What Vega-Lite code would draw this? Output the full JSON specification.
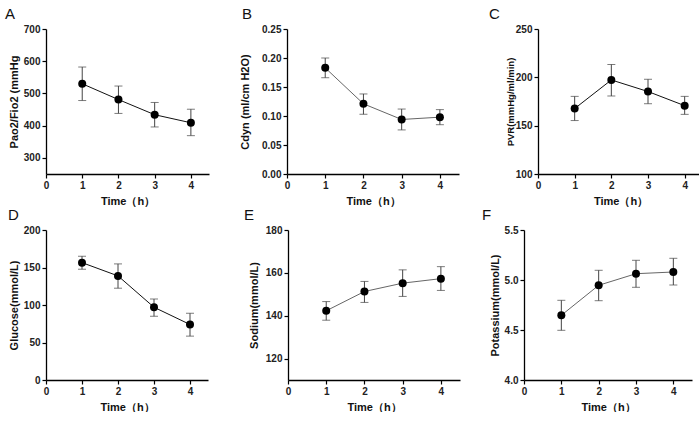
{
  "$schema": "https://vega.github.io/schema/vega-lite/v6.json",
  "background": "white",
  "padding": {"left": 5, "top": 7, "right": 0, "bottom": 0},
  "datasets": {
    "stats": [
      {"panel": "A", "time": 1, "mean": 530, "lo": 478, "hi": 582},
      {"panel": "A", "time": 2, "mean": 481, "lo": 438, "hi": 523},
      {"panel": "A", "time": 3, "mean": 434, "lo": 396, "hi": 472},
      {"panel": "A", "time": 4, "mean": 409, "lo": 369, "hi": 451},
      {"panel": "B", "time": 1, "mean": 0.183, "lo": 0.166, "hi": 0.2},
      {"panel": "B", "time": 2, "mean": 0.121, "lo": 0.103, "hi": 0.138},
      {"panel": "B", "time": 3, "mean": 0.094, "lo": 0.076, "hi": 0.112},
      {"panel": "B", "time": 4, "mean": 0.098, "lo": 0.085, "hi": 0.111},
      {"panel": "C", "time": 1, "mean": 167.7, "lo": 155.3, "hi": 180.3},
      {"panel": "C", "time": 2, "mean": 197.3, "lo": 180.7, "hi": 213.3},
      {"panel": "C", "time": 3, "mean": 185.3, "lo": 172.7, "hi": 198},
      {"panel": "C", "time": 4, "mean": 170.7, "lo": 161.7, "hi": 180.3},
      {"panel": "D", "time": 1, "mean": 156.5, "lo": 147.7, "hi": 165},
      {"panel": "D", "time": 2, "mean": 138.8, "lo": 122.4, "hi": 154.8},
      {"panel": "D", "time": 3, "mean": 97, "lo": 85, "hi": 108},
      {"panel": "D", "time": 4, "mean": 74, "lo": 58.5, "hi": 89},
      {"panel": "E", "time": 1, "mean": 142.3, "lo": 137.9, "hi": 146.6},
      {"panel": "E", "time": 2, "mean": 151.3, "lo": 146.2, "hi": 156},
      {"panel": "E", "time": 3, "mean": 155.2, "lo": 149, "hi": 161.4},
      {"panel": "E", "time": 4, "mean": 157.3, "lo": 151.8, "hi": 162.9},
      {"panel": "F", "time": 1, "mean": 4.647, "lo": 4.497, "hi": 4.797},
      {"panel": "F", "time": 2, "mean": 4.947, "lo": 4.793, "hi": 5.097},
      {"panel": "F", "time": 3, "mean": 5.063, "lo": 4.927, "hi": 5.197},
      {"panel": "F", "time": 4, "mean": 5.08, "lo": 4.95, "hi": 5.217}
    ]
  },
  "data": {"name": "stats"},
  "vconcat": [
    {
      "hconcat": [
        {
          "width": 163, "height": 145,
          "title": {"text": "A", "dx": -41},
          "transform": [{"filter": "datum.panel === 'A'"}],
          "encoding": {
            "x": {"field": "time", "type": "quantitative", "scale": {"domain": [0, 4.5]}, "axis": {"values": [0, 1, 2, 3, 4], "title": "Time（h）"}},
            "y": {"field": "mean", "type": "quantitative", "scale": {"domain": [250, 700]}, "axis": {"values": [300, 400, 500, 600, 700], "title": "Pao2/Fio2 (mmHg", "titlePadding": 4}}
          },
          "layer": [
            {"mark": {"type": "errorbar", "color": "#444", "ticks": {"size": 8}}, "encoding": {"y": {"field": "lo", "type": "quantitative", "title": "Pao2/Fio2 (mmHg"}, "y2": {"field": "hi"}}},
            {"mark": {"type": "line", "color": "#111", "strokeWidth": 1}, "encoding": {}},
            {"mark": {"type": "point", "filled": true, "size": 64, "color": "#000", "opacity": 1}, "encoding": {}}
          ]
        },
        {
          "width": 172, "height": 145,
          "title": {"text": "B", "dx": -45},
          "transform": [{"filter": "datum.panel === 'B'"}],
          "encoding": {
            "x": {"field": "time", "type": "quantitative", "scale": {"domain": [0, 4.5]}, "axis": {"values": [0, 1, 2, 3, 4], "title": "Time（h）"}},
            "y": {"field": "mean", "type": "quantitative", "scale": {"domain": [0, 0.25]}, "axis": {"values": [0, 0.05, 0.1, 0.15, 0.2, 0.25], "format": ".2f", "title": "Cdyn (ml/cm H2O)", "titlePadding": 11}}
          },
          "layer": [
            {"mark": {"type": "errorbar", "color": "#444", "ticks": {"size": 8}}, "encoding": {"y": {"field": "lo", "type": "quantitative", "title": "Cdyn (ml/cm H2O)"}, "y2": {"field": "hi"}}},
            {"mark": {"type": "line", "color": "#666", "strokeWidth": 1}, "encoding": {}},
            {"mark": {"type": "point", "filled": true, "size": 64, "color": "#000", "opacity": 1}, "encoding": {}}
          ]
        },
        {
          "width": 165, "height": 145,
          "title": {"text": "C", "dx": -49},
          "transform": [{"filter": "datum.panel === 'C'"}],
          "encoding": {
            "x": {"field": "time", "type": "quantitative", "scale": {"domain": [0, 4.5]}, "axis": {"values": [0, 1, 2, 3, 4], "title": "Time（h）"}},
            "y": {"field": "mean", "type": "quantitative", "scale": {"domain": [100, 250]}, "axis": {"values": [100, 150, 200, 250], "title": "PVR(mmHg/ml/min)", "titleFontSize": 9.5, "titlePadding": 0}}
          },
          "layer": [
            {"mark": {"type": "errorbar", "color": "#444", "ticks": {"size": 8}}, "encoding": {"y": {"field": "lo", "type": "quantitative", "title": "PVR(mmHg/ml/min)"}, "y2": {"field": "hi"}}},
            {"mark": {"type": "line", "color": "#111", "strokeWidth": 1}, "encoding": {}},
            {"mark": {"type": "point", "filled": true, "size": 64, "color": "#000", "opacity": 1}, "encoding": {}}
          ]
        }
      ],
      "spacing": 30
    },
    {
      "hconcat": [
        {
          "width": 162, "height": 150,
          "title": {"text": "D", "dx": -38},
          "transform": [{"filter": "datum.panel === 'D'"}],
          "encoding": {
            "x": {"field": "time", "type": "quantitative", "scale": {"domain": [0, 4.5]}, "axis": {"values": [0, 1, 2, 3, 4], "title": "Time（h）"}},
            "y": {"field": "mean", "type": "quantitative", "scale": {"domain": [0, 200]}, "axis": {"values": [0, 50, 100, 150, 200], "title": "Glucose(mmol/L)", "titlePadding": 4}}
          },
          "layer": [
            {"mark": {"type": "errorbar", "color": "#444", "ticks": {"size": 8}}, "encoding": {"y": {"field": "lo", "type": "quantitative", "title": "Glucose(mmol/L)"}, "y2": {"field": "hi"}}},
            {"mark": {"type": "line", "color": "#111", "strokeWidth": 1}, "encoding": {}},
            {"mark": {"type": "point", "filled": true, "size": 64, "color": "#000", "opacity": 1}, "encoding": {}}
          ]
        },
        {
          "hconcat": [
            {
              "width": 172, "height": 150,
              "title": {"text": "E", "dx": -44},
              "transform": [{"filter": "datum.panel === 'E'"}],
              "encoding": {
                "x": {"field": "time", "type": "quantitative", "scale": {"domain": [0, 4.5]}, "axis": {"values": [0, 1, 2, 3, 4], "title": "Time（h）"}},
                "y": {"field": "mean", "type": "quantitative", "scale": {"domain": [110, 180]}, "axis": {"values": [120, 140, 160, 180], "title": "Sodium(mmol/L)", "titlePadding": 6}}
              },
              "layer": [
                {"mark": {"type": "errorbar", "color": "#444", "ticks": {"size": 8}}, "encoding": {"y": {"field": "lo", "type": "quantitative", "title": "Sodium(mmol/L)"}, "y2": {"field": "hi"}}},
                {"mark": {"type": "line", "color": "#666", "strokeWidth": 1}, "encoding": {}},
                {"mark": {"type": "point", "filled": true, "size": 64, "color": "#000", "opacity": 1}, "encoding": {}}
              ]
            },
            {
              "width": 168, "height": 150,
              "title": {"text": "F", "dx": -42},
              "transform": [{"filter": "datum.panel === 'F'"}],
              "encoding": {
                "x": {"field": "time", "type": "quantitative", "scale": {"domain": [0, 4.5]}, "axis": {"values": [0, 1, 2, 3, 4], "title": "Time（h）"}},
                "y": {"field": "mean", "type": "quantitative", "scale": {"domain": [4, 5.5]}, "axis": {"values": [4, 4.5, 5, 5.5], "format": ".1f", "title": "Potassium(mmol/L)", "titlePadding": 4}}
              },
              "layer": [
                {"mark": {"type": "errorbar", "color": "#444", "ticks": {"size": 8}}, "encoding": {"y": {"field": "lo", "type": "quantitative", "title": "Potassium(mmol/L)"}, "y2": {"field": "hi"}}},
                {"mark": {"type": "line", "color": "#666", "strokeWidth": 1}, "encoding": {}},
                {"mark": {"type": "point", "filled": true, "size": 64, "color": "#000", "opacity": 1}, "encoding": {}}
              ]
            }
          ],
          "spacing": 22
        }
      ],
      "spacing": 36
    }
  ],
  "spacing": 2,
  "config": {
    "font": "Liberation Sans",
    "view": {"stroke": null},
    "title": {"anchor": "start", "frame": "group", "fontSize": 15, "fontWeight": "normal", "color": "#111", "offset": 2},
    "axis": {
      "grid": false,
      "domainColor": "#000",
      "domainWidth": 1.3,
      "tickColor": "#000",
      "tickWidth": 1.2,
      "tickSize": 4,
      "labelFontSize": 10,
      "labelFontWeight": "bold",
      "labelColor": "#222",
      "labelPadding": 2,
      "titleFontSize": 11,
      "titleFontWeight": "bold",
      "titleColor": "#111"
    },
    "axisX": {"titlePadding": 5, "labelFlush": false}
  }
}
